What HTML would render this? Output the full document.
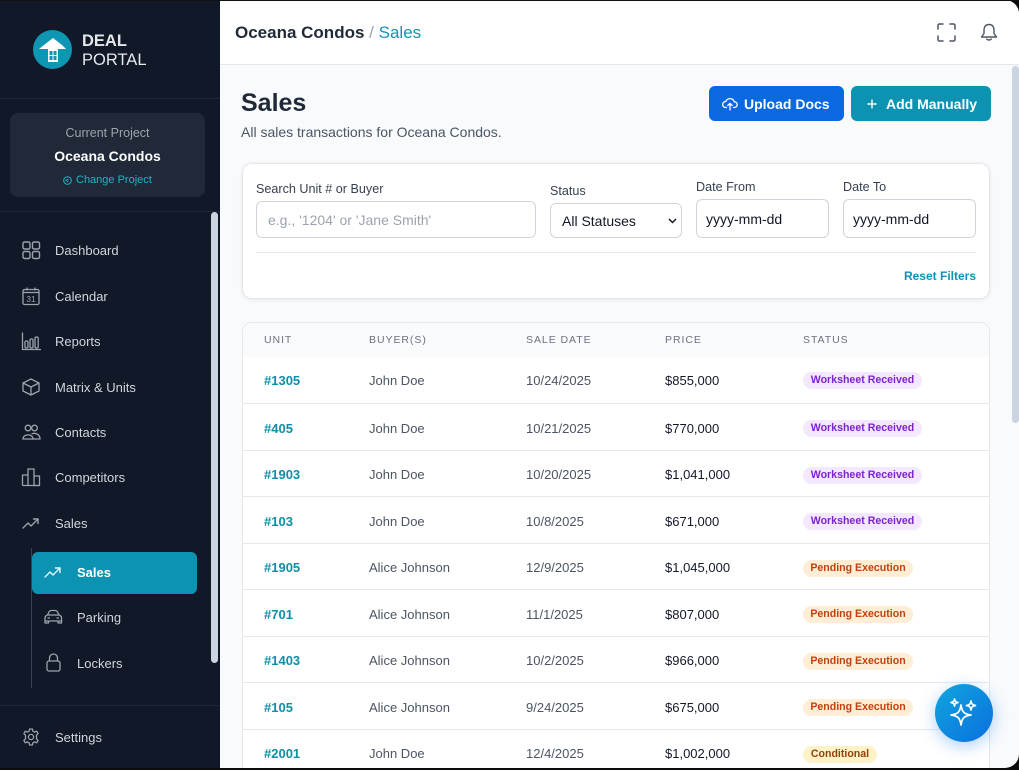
<!DOCTYPE html>
<html><head><meta charset="utf-8">
<style>
*{box-sizing:border-box;margin:0;padding:0}
html,body{width:1019px;height:770px;overflow:hidden;background:#0c0c0d;font-family:"Liberation Sans",sans-serif}
#win{position:absolute;left:0;top:0;width:1019px;height:768px;border-radius:0 14px 14px 0;overflow:hidden;background:#f8fafc}
.a{position:absolute}
.t{position:absolute;white-space:nowrap;height:20px;line-height:20px}
#side{position:absolute;left:0;top:0;width:220px;height:768px;background:#111827}
.nav{font-size:13px;color:#d1d5db;left:55px}
.ic{position:absolute;width:18px;height:18px}
.ic svg{width:18px;height:18px;display:block;overflow:visible}
.div{position:absolute;left:0;width:220px;height:1px;background:#1f2937}
.lbl{font-size:12.6px;color:#374151}
.inp{position:absolute;background:#fff;border:1px solid #d1d5db;border-radius:6px}
.th{font-size:10.5px;color:#6b7280;letter-spacing:0.95px}
.row{position:absolute;left:0;width:748px;height:46.5px;border-top:1px solid #e5e7eb}
.cell{position:absolute;top:14.5px;font-size:13px;white-space:nowrap;line-height:20px}
.u{left:21px;color:#0e8fa8;font-weight:bold}
.b{left:126px;color:#4b5563}
.d{left:283px;color:#4b5563}
.p{left:422px;color:#111827}
.bd{position:absolute;left:560px;top:16px;height:17px;line-height:17px;border-radius:9px;font-size:10.6px;font-weight:bold;text-align:center}
.wr{width:119px;background:#f3e8ff;color:#7e22ce}
.pe{width:110px;background:#ffedd5;color:#c2410c}
.co{width:74px;background:#fef3c7;color:#92400e}
</style></head><body>
<div id="win">
  <!-- SIDEBAR -->
  <div id="side">
    <div class="a" style="left:33px;top:30px;width:39px;height:39px;border-radius:50%;background:#0e96b3"></div>
    <svg class="a" style="left:33px;top:30px" width="39" height="39" viewBox="0 0 39 39">
      <path d="M20 8 L29 15 L33 19 L6 19 L11 15 Z" fill="#fff"/>
      <rect x="15" y="19" width="10" height="13" fill="#fff"/>
      <rect x="16.5" y="21" width="3" height="4" fill="#0e96b3"/>
      <rect x="20.5" y="21" width="3" height="4" fill="#0e96b3"/>
      <rect x="16.5" y="26" width="3" height="4" fill="#0e96b3"/>
      <rect x="20.5" y="26" width="3" height="4" fill="#0e96b3"/>
    </svg>
    <div class="t" style="left:82px;top:31px;font-size:16.5px;font-weight:bold;color:#e5e7eb">DEAL</div>
    <div class="t" style="left:82px;top:50px;font-size:16.5px;color:#e5e7eb">PORTAL</div>
    <div class="div" style="top:98px"></div>
    <div class="a" style="left:10px;top:113px;width:195px;height:84px;border-radius:8px;background:#1f2937">
      <div class="t" style="left:0;width:195px;top:10px;text-align:center;font-size:12.5px;color:#9ca3af">Current Project</div>
      <div class="t" style="left:0;width:195px;top:33px;text-align:center;font-size:14px;font-weight:bold;color:#fff">Oceana Condos</div>
      <div class="t" style="left:66px;top:57px;font-size:11px;color:#22b3cc">Change Project</div>
      <svg class="a" style="left:53px;top:63px" width="9" height="9" viewBox="0 0 9 9"><circle cx="4.5" cy="4.5" r="3.8" fill="none" stroke="#22b3cc" stroke-width="1"/><path d="M5.5 3 L3 4.5 L5.5 6" fill="none" stroke="#22b3cc" stroke-width="1"/></svg>
    </div>
    <div class="div" style="top:211px"></div>

    <!-- nav -->
    <div class="ic" style="left:22px;top:241px"><svg viewBox="0 0 18 18" fill="none" stroke="#9ca3af" stroke-width="1.4"><rect x="1" y="1" width="7" height="7" rx="1.5"/><rect x="10.5" y="1" width="7" height="7" rx="1.5"/><rect x="1" y="10.5" width="7" height="7" rx="1.5"/><rect x="10.5" y="10.5" width="7" height="7" rx="1.5"/></svg></div>
    <div class="t nav" style="top:241px">Dashboard</div>

    <div class="ic" style="left:22px;top:287px"><svg viewBox="0 0 18 18" fill="none" stroke="#9ca3af" stroke-width="1.3"><rect x="1" y="2.5" width="16" height="15" rx="1.5"/><line x1="1" y1="5.5" x2="17" y2="5.5"/><line x1="5" y1="0.5" x2="5" y2="3.5"/><line x1="13" y1="0.5" x2="13" y2="3.5"/><text x="9" y="15" font-size="8.5" text-anchor="middle" fill="#9ca3af" stroke="none" font-family="Liberation Sans">31</text></svg></div>
    <div class="t nav" style="top:287px">Calendar</div>

    <div class="ic" style="left:22px;top:332px"><svg viewBox="0 0 18 18" fill="none" stroke="#9ca3af" stroke-width="1.3"><path d="M0.5 0.5 V17.5 H19"/><rect x="3" y="9" width="3" height="7" rx="1.2"/><rect x="8" y="7" width="3" height="9" rx="1.2"/><rect x="13" y="5" width="3.2" height="11" rx="1.2"/></svg></div>
    <div class="t nav" style="top:332px">Reports</div>

    <div class="ic" style="left:22px;top:378px"><svg viewBox="0 0 18 18" fill="none" stroke="#9ca3af" stroke-width="1.3" stroke-linejoin="round"><path d="M9 1 L17 5 L17 13 L9 17 L1 13 L1 5 Z"/><path d="M1 5 L9 9 L17 5 M9 9 V17"/></svg></div>
    <div class="t nav" style="top:378px">Matrix &amp; Units</div>

    <div class="ic" style="left:22px;top:423px"><svg viewBox="0 0 18 18" fill="none" stroke="#9ca3af" stroke-width="1.3"><circle cx="6" cy="5" r="2.8"/><circle cx="12.5" cy="5" r="2.8"/><path d="M1 16 C1 10.5 11 10.5 11 16 Z"/><path d="M9.5 11 C12 9.5 18 10.5 18 16 H11"/></svg></div>
    <div class="t nav" style="top:423px">Contacts</div>

    <div class="ic" style="left:22px;top:468px"><svg viewBox="0 0 18 18" fill="none" stroke="#9ca3af" stroke-width="1.3"><path d="M0.5 17.5 V7 H6 V17.5 M6 17.5 V1 H12 V17.5 M12 17.5 V8 H17.5 V17.5 Z"/><path d="M0.5 17.5 H17.5"/></svg></div>
    <div class="t nav" style="top:468px">Competitors</div>

    <div class="ic" style="left:22px;top:514px"><svg viewBox="0 0 18 18" fill="none" stroke="#9ca3af" stroke-width="1.4" stroke-linejoin="round" stroke-linecap="round"><polyline points="1,14 6,9 9,12 16,5"/><polyline points="11.5,5 16,5 16,9.5"/></svg></div>
    <div class="t nav" style="top:514px">Sales</div>

    <div class="a" style="left:31px;top:548px;width:1px;height:140px;background:#374151"></div>
    <div class="a" style="left:32px;top:552px;width:165px;height:42px;border-radius:6px;background:#0b93b1"></div>
    <div class="ic" style="left:44px;top:563px"><svg viewBox="0 0 18 18" fill="none" stroke="#e0f7fb" stroke-width="1.4" stroke-linejoin="round" stroke-linecap="round"><polyline points="1,14 6,9 9,12 16,5"/><polyline points="11.5,5 16,5 16,9.5"/></svg></div>
    <div class="t" style="left:77px;top:563px;font-size:13px;font-weight:bold;color:#fff">Sales</div>

    <div class="ic" style="left:44px;top:608px"><svg viewBox="0 0 18 18" fill="none" stroke="#9ca3af" stroke-width="1.3" stroke-linejoin="round"><path d="M1 13 V10 C1 8.5 2 7.5 3.5 7 L5 4 C5.5 3 6.5 2.5 7.5 2.5 H11 C12 2.5 13 3 13.5 4 L15 7 C16.5 7.5 17.5 8.5 17.5 10 V13 Z"/><path d="M4 7 H14.5"/><path d="M1 13 V15 H4.5 V13 M14 13 V15 H17.5 V13"/><path d="M3.5 10 H6 M12.5 10 H15"/></svg></div>
    <div class="t nav" style="left:77px;top:608px">Parking</div>

    <div class="ic" style="left:45px;top:653px"><svg viewBox="0 0 18 18" fill="none" stroke="#9ca3af" stroke-width="1.3"><rect x="2" y="8" width="13" height="10" rx="2"/><path d="M4.5 8 V5 A4 4 0 0 1 12.5 5 V8"/></svg></div>
    <div class="t nav" style="left:77px;top:654px">Lockers</div>

    <div class="div" style="top:705px"></div>
    <div class="ic" style="left:22px;top:728px"><svg viewBox="0 0 18 18" fill="none" stroke="#9ca3af" stroke-width="1.3" stroke-linejoin="round"><path d="M7.6 1 H10.4 L10.9 3.2 L12.6 4.1 L14.7 3.2 L16.1 5.6 L14.5 7.2 V9 V10.8 L16.1 12.4 L14.7 14.8 L12.6 13.9 L10.9 14.8 L10.4 17 H7.6 L7.1 14.8 L5.4 13.9 L3.3 14.8 L1.9 12.4 L3.5 10.8 V7.2 L1.9 5.6 L3.3 3.2 L5.4 4.1 L7.1 3.2 Z"/><circle cx="9" cy="9" r="2.6"/></svg></div>
    <div class="t nav" style="top:728px">Settings</div>

    <div class="a" style="left:211px;top:212px;width:7px;height:451px;border-radius:4px;background:#cbd5e1"></div>
  </div>

  <!-- HEADER -->
  <div class="a" style="left:220px;top:0;width:799px;height:65px;background:#fff;border-bottom:1px solid #e5e7eb"></div>
  <div class="t" style="left:235px;top:23px;font-size:17px;color:#1f2937"><b>Oceana Condos</b> <span style="color:#9ca3af">/</span> <span style="color:#0e94b0">Sales</span></div>
  <svg class="a" style="left:937px;top:23px" width="19" height="19" viewBox="0 0 19 19" fill="none" stroke="#4b5563" stroke-width="1.5" stroke-linecap="round"><path d="M1 6 V2.5 A1.5 1.5 0 0 1 2.5 1 H6 M13 1 H16.5 A1.5 1.5 0 0 1 18 2.5 V6 M18 13 V16.5 A1.5 1.5 0 0 1 16.5 18 H13 M6 18 H2.5 A1.5 1.5 0 0 1 1 16.5 V13"/></svg>
  <svg class="a" style="left:980px;top:23px" width="18" height="19" viewBox="0 0 18 19" fill="none" stroke="#4b5563" stroke-width="1.4" stroke-linejoin="round"><path d="M9 1.5 C5.5 1.5 4 4 4 7 V10.5 L1.5 14 H16.5 L14 10.5 V7 C14 4 12.5 1.5 9 1.5 Z"/><path d="M6.5 15.5 C7 17.5 11 17.5 11.5 15.5"/></svg>

  <!-- main scrollbar -->
  <div class="a" style="left:1012px;top:66px;width:7px;height:357px;border-radius:4px;background:#cbd5e1"></div>

  <!-- Title -->
  <div class="a" style="left:241px;top:88px;font-size:25px;line-height:30px;font-weight:bold;color:#1f2937">Sales</div>
  <div class="t" style="left:241px;top:122px;font-size:14px;color:#4b5563">All sales transactions for Oceana Condos.</div>

  <div class="a" style="left:709px;top:86px;width:135px;height:35px;border-radius:6px;background:#0a68e0"></div>
  <svg class="a" style="left:722px;top:97px" width="16" height="14" viewBox="0 0 16 14" fill="none" stroke="#fff" stroke-width="1.3" stroke-linecap="round" stroke-linejoin="round"><path d="M4.5 10.5 H3.5 A3 3 0 0 1 3.8 4.5 A4.5 4.5 0 0 1 12.3 4.8 A2.8 2.8 0 0 1 12.5 10.5 H11.5"/><path d="M8 13 V6.5 M5.8 8.5 L8 6.3 L10.2 8.5"/></svg>
  <div class="t" style="left:744px;top:94px;font-size:14px;font-weight:bold;color:#fff">Upload Docs</div>

  <div class="a" style="left:851px;top:86px;width:140px;height:35px;border-radius:6px;background:#0b93b1"></div>
  <svg class="a" style="left:867px;top:99px" width="10" height="10" viewBox="0 0 10 10"><path d="M5 0.5 V9.5 M0.5 5 H9.5" stroke="#fff" stroke-width="1.4"/></svg>
  <div class="t" style="left:886px;top:94px;font-size:14px;font-weight:bold;color:#fff">Add Manually</div>

  <!-- Filter card -->
  <div class="a" style="left:242px;top:163px;width:748px;height:136px;background:#fff;border:1px solid #e5e7eb;border-radius:10px;box-shadow:0 1px 4px rgba(0,0,0,0.07)"></div>
  <div class="t lbl" style="left:256px;top:179px">Search Unit # or Buyer</div>
  <div class="inp" style="left:256px;top:201px;width:280px;height:37px"></div>
  <div class="t" style="left:268px;top:210px;font-size:14px;color:#9ca3af">e.g., '1204' or 'Jane Smith'</div>

  <div class="t lbl" style="left:550px;top:181px">Status</div>
  <div class="inp" style="left:550px;top:203px;width:132px;height:35px"></div>
  <div class="t" style="left:562px;top:211px;font-size:14px;color:#111827">All Statuses</div>
  <svg class="a" style="left:668px;top:218px" width="9" height="6" viewBox="0 0 9 6"><polyline points="1,1 4.5,4.5 8,1" fill="none" stroke="#111827" stroke-width="1.5"/></svg>

  <div class="t lbl" style="left:696px;top:177px">Date From</div>
  <div class="inp" style="left:696px;top:199px;width:133px;height:39px"></div>
  <div class="t" style="left:706px;top:209px;font-size:14px;color:#111827">yyyy-mm-dd</div>

  <div class="t lbl" style="left:843px;top:177px">Date To</div>
  <div class="inp" style="left:843px;top:199px;width:133px;height:39px"></div>
  <div class="t" style="left:853px;top:209px;font-size:14px;color:#111827">yyyy-mm-dd</div>

  <div class="a" style="left:256px;top:252px;width:720px;height:1px;background:#e5e7eb"></div>
  <div class="t" style="left:876px;width:100px;text-align:right;top:266px;font-size:12px;font-weight:bold;color:#0e94b0">Reset Filters</div>

  <!-- Table card -->
  <div class="a" style="left:242px;top:322px;width:748px;height:470px;background:#fff;border:1px solid #e5e7eb;border-radius:10px;overflow:hidden">
    <div class="a" style="left:0;top:0;width:748px;height:34px;background:#f9fafb"></div>
    <div class="t th" style="left:21px;top:7px">UNIT</div>
    <div class="t th" style="left:126px;top:7px">BUYER(S)</div>
    <div class="t th" style="left:283px;top:7px">SALE DATE</div>
    <div class="t th" style="left:422px;top:7px">PRICE</div>
    <div class="t th" style="left:560px;top:7px">STATUS</div>

    <div class="row" style="top:33px;border-top:none"><div class="cell u">#1305</div><div class="cell b">John Doe</div><div class="cell d">10/24/2025</div><div class="cell p">$855,000</div><div class="bd wr">Worksheet Received</div></div>
    <div class="row" style="top:80px"><div class="cell u">#405</div><div class="cell b">John Doe</div><div class="cell d">10/21/2025</div><div class="cell p">$770,000</div><div class="bd wr">Worksheet Received</div></div>
    <div class="row" style="top:126.5px"><div class="cell u">#1903</div><div class="cell b">John Doe</div><div class="cell d">10/20/2025</div><div class="cell p">$1,041,000</div><div class="bd wr">Worksheet Received</div></div>
    <div class="row" style="top:173px"><div class="cell u">#103</div><div class="cell b">John Doe</div><div class="cell d">10/8/2025</div><div class="cell p">$671,000</div><div class="bd wr">Worksheet Received</div></div>
    <div class="row" style="top:219.5px"><div class="cell u">#1905</div><div class="cell b">Alice Johnson</div><div class="cell d">12/9/2025</div><div class="cell p">$1,045,000</div><div class="bd pe">Pending Execution</div></div>
    <div class="row" style="top:266px"><div class="cell u">#701</div><div class="cell b">Alice Johnson</div><div class="cell d">11/1/2025</div><div class="cell p">$807,000</div><div class="bd pe">Pending Execution</div></div>
    <div class="row" style="top:312.5px"><div class="cell u">#1403</div><div class="cell b">Alice Johnson</div><div class="cell d">10/2/2025</div><div class="cell p">$966,000</div><div class="bd pe">Pending Execution</div></div>
    <div class="row" style="top:359px"><div class="cell u">#105</div><div class="cell b">Alice Johnson</div><div class="cell d">9/24/2025</div><div class="cell p">$675,000</div><div class="bd pe">Pending Execution</div></div>
    <div class="row" style="top:405.5px"><div class="cell u">#2001</div><div class="cell b">John Doe</div><div class="cell d">12/4/2025</div><div class="cell p">$1,002,000</div><div class="bd co">Conditional</div></div>
  </div>

  <!-- FAB -->
  <div class="a" style="left:935px;top:684px;width:58px;height:58px;border-radius:50%;background:linear-gradient(135deg,#10a6dc 0%,#0a6fe0 100%);box-shadow:0 4px 16px rgba(20,120,230,0.35)"></div>
  <svg class="a" style="left:935px;top:684px" width="58" height="58" viewBox="0 0 58 58" fill="none" stroke="#fff" stroke-width="1.7" stroke-linejoin="round">
    <path d="M26 21 C27 28 29 30 36 31 C29 32 27 34 26 41 C25 34 23 32 16 31 C23 30 25 28 26 21 Z"/>
    <path d="M19.5 15 C20 17.5 20.5 18 23 18.5 C20.5 19 20 19.5 19.5 22 C19 19.5 18.5 19 16 18.5 C18.5 18 19 17.5 19.5 15 Z"/>
    <path d="M36 17 C36.5 20 37.5 21 40.5 21.5 C37.5 22 36.5 23 36 26 C35.5 23 34.5 22 31.5 21.5 C34.5 21 35.5 20 36 17 Z"/>
  </svg>
</div>
<div class="a" style="left:0;top:0;width:1019px;height:1px;background:#111"></div>
</body></html>
